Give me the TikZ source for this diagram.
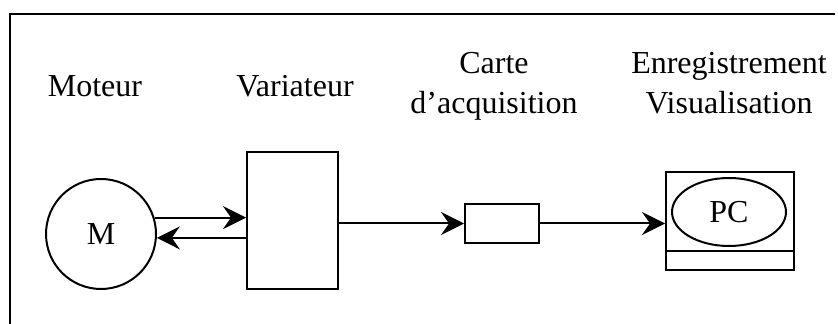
\documentclass[tikz,border=0pt]{standalone}
\usepackage{fontspec}
\setmainfont{Liberation Serif}
\usetikzlibrary{arrows.meta, positioning, calc, shapes.geometric}
\tikzset{
  bloc/.style={draw, line width=1pt, inner sep=0pt},
  fleche/.style={-{Stealth[length=11.5pt, width=11.5pt, inset=4pt]}, line width=1pt},
  titre/.style={font=\fontsize{16}{20}\selectfont, align=center, inner sep=0pt}
}

\begin{document}
\begin{tikzpicture}[x=0.5pt, y=-0.5pt, font=\fontsize{16}{19}\selectfont]
    \useasboundingbox (0,0) rectangle (838,324);
    % cadre
    \draw[line width=1.3pt] (10,324) -- (10,14) -- (835,14);
    % blocs
    \node[bloc, circle, minimum size=55pt] (mot) at (101,234) {M};
    \node[bloc, minimum width=45.5pt, minimum height=68.5pt] (var) at (292.5,220.5) {};
    \node[bloc, minimum width=37pt, minimum height=19.5pt] (carte) at (502,223.5) {};
    \node[bloc, minimum width=64pt, minimum height=49pt] (pc) at (730,221) {};
    \coordinate (pcsw) at (pc.south west);
    \draw[line width=1.3pt] ($(pcsw)+(0,-20)$) -- ($(pc.south east)+(0,-20)$);
    \node[bloc, ellipse, minimum width=57pt, minimum height=34pt] (ecran) at (729,212) {PC};
    % titres
    \node[titre, anchor=base] (tmot) at (95,97) {Moteur};
    \node[titre, anchor=base] (tvar) at (295,97) {Variateur};
    \node[titre, anchor=base] (tcarte) at (494,114) {Carte\\d'acquisition};
    \node[titre, anchor=base] (tpc) at (729,114) {Enregistrement\\Visualisation};
    % liaisons
    \draw[fleche] (mot.17) -- (mot.17 -| var.west);
    \draw[fleche] (mot.-4 -| var.west) -- (mot.-4);
    \draw[fleche] (var.east |- carte) -- (carte);
    \draw[fleche] (carte.east) -- (carte.east -| pc.west);
\end{tikzpicture}
\end{document}
